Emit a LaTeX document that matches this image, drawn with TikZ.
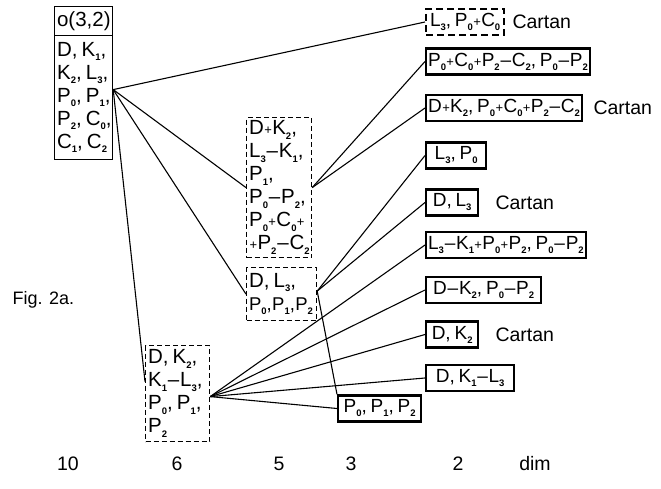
\documentclass[tikz,border=0pt]{standalone}
\usepackage{fontspec}
\setmainfont{Liberation Sans}
% small bold index digits
\newcommand\lo[1]{\raisebox{-0.4ex}{\fontsize{9.5}{9.5}\selectfont\bfseries #1}}
\newcommand\mi{\kern0.04em--\kern0.04em}
\newcommand\pl{\kern0.02em{\fontsize{13}{13}\selectfont +}\kern0.02em}
\newcommand\cma{,\kern0.2em}
\newcommand\cmb{,\kern0.02em}
\newcommand\txt{\fontsize{20.5}{23}\selectfont}
\newcommand\rtxt{\fontsize{19}{23}\selectfont}
\newcommand\rowx[1]{\mbox{#1}}
\begin{document}
\begin{tikzpicture}[x=1pt,y=-1pt,
  lbox/.style={draw, line width=1.2pt, dash pattern=on 5pt off 3pt,
    anchor=north west, align=left, inner xsep=2.5pt, inner ysep=1pt, font=\txt},
  obox/.style={draw, line width=1.2pt, anchor=north west, align=left,
    inner xsep=2.5pt, inner ysep=1pt, font=\txt},
  rbox/.style={draw, line width=2.3pt, anchor=west, inner xsep=2pt,
    inner ysep=0pt, minimum height=26pt, font=\rtxt},
  rdash/.style={rbox, dash pattern=on 7pt off 4pt},
  tag/.style={anchor=west, font=\fontsize{19.5}{23}\selectfont},
  link/.style={line width=1.1pt}]
\useasboundingbox (0,0) rectangle (661,489);

% dimension 10
\node[obox, text width=53pt, minimum height=29pt] (oh) at (54,6) {o(3,2)};
\node[obox, text width=53pt, minimum height=124pt] (o) at (54,35)
  {\rowx{D\cma K\lo1\cma}\\ \rowx{K\lo2\cma L\lo3\cma}\\ \rowx{P\lo0\cma P\lo1\cma}\\
   \rowx{P\lo2\cma C\lo0\cma}\\ \rowx{C\lo1\cma C\lo2}};

% dimension 6
\node[lbox, text width=59pt, minimum height=96pt] (s6) at (145,345)
  {\rowx{D\cma K\lo2\cma}\\ \rowx{K\lo1\mi L\lo3\cma}\\ \rowx{P\lo0\cma P\lo1\cma}\\ \rowx{P\lo2}};

% dimension 5
\node[lbox, text width=60pt, minimum height=140pt] (u5) at (246,117)
  {\rowx{D\pl K\lo2\cma}\\ \rowx{L\lo3\mi K\lo1\cma}\\ \rowx{P\lo1\cma}\\ \rowx{P\lo0\mi P\lo2\cma}\\
   \rowx{P\lo0\pl C\lo0\pl}\\ \rowx{\pl P\lo2\mi C\lo2}};
\node[lbox, text width=65pt, minimum height=53pt] (l5) at (246,267)
  {\rowx{D\cma L\lo3\cma}\\ \rowx{\fontsize{18.5}{23}\selectfont P\lo0\cmb P\lo1\cmb P\lo2}};

% dimension 3
\node[rbox, minimum width=83pt] (r10) at (337,408.5) {P\lo0\cma P\lo1\cma P\lo2};

% dimension 2
\node[rdash, minimum width=78pt] (r1) at (425,22) {L\lo3\cma P\lo0\pl C\lo0};
\node[rbox, minimum width=158pt] (r2) at (425,61.5) {P\lo0\pl C\lo0\pl P\lo2\mi C\lo2\cma P\lo0\mi P\lo2};
\node[rbox, minimum width=155pt] (r3) at (425,108) {D\pl K\lo2\cma P\lo0\pl C\lo0\pl P\lo2\mi C\lo2};
\node[rbox, minimum width=60pt] (r4) at (425,155.5) {L\lo3\cma P\lo0};
\node[rbox, minimum width=52pt] (r5) at (425,202.5) {D\cma L\lo3};
\node[rbox, minimum width=158pt] (r6) at (425,245) {L\lo3\mi K\lo1\pl P\lo0\pl P\lo2\cma P\lo0\mi P\lo2};
\node[rbox, minimum width=115pt] (r7) at (425,290) {D\mi K\lo2\cma P\lo0\mi P\lo2};
\node[rbox, minimum width=52pt] (r8) at (425,334.5) {D\cma K\lo2};
\node[rbox, minimum width=88pt] (r9) at (425,378) {D\cma K\lo1\mi L\lo3};

\node[tag] (c1) at (509,22) {Cartan};
\node[tag] (c3) at (590,108) {Cartan};
\node[tag] (c5) at (492,202.5) {Cartan};
\node[tag] (c8) at (492,334.5) {Cartan};

% connectors
\coordinate (oR) at ([yshift=8pt]o.east);
\draw[link] (oR) -- (r1.west);
\draw[link] (oR) -- (u5.west);
\draw[link] (oR) -- (l5.west);
\draw[link] (oR) -- ([yshift=12pt]s6.west);

\draw[link] (u5.east) -- (r2.west);
\draw[link] (u5.east) -- (r3.west);

\coordinate (l5R) at ([yshift=3pt]l5.east);
\draw[link] (l5R) -- (r4.west);
\draw[link] (l5R) -- (r5.west);
\draw[link] (l5R) -- (r10.north west);

\coordinate (s6R) at ([yshift=-3pt]s6.east);
\draw[link] (s6R) -- (r6.west);
\draw[link] (s6R) -- (r7.west);
\draw[link] (s6R) -- (r8.west);
\draw[link] (s6R) -- (r9.west);
\draw[link] (s6R) -- (r10.west);

% captions
\node[anchor=west, font=\fontsize{18}{18}\selectfont] (fig) at (9,300) {Fig. 2a.};
\node[font=\fontsize{19.5}{23}\selectfont] (d10) at (68,464) {10};
\node[font=\fontsize{19.5}{23}\selectfont] (d6) at (177,464) {6};
\node[font=\fontsize{19.5}{23}\selectfont] (d5) at (279,464) {5};
\node[font=\fontsize{19.5}{23}\selectfont] (d3) at (351,464) {3};
\node[font=\fontsize{19.5}{23}\selectfont] (d2) at (458,464) {2};
\node[font=\fontsize{19.5}{23}\selectfont] (dd) at (535,464) {dim};
\end{tikzpicture}
\end{document}
